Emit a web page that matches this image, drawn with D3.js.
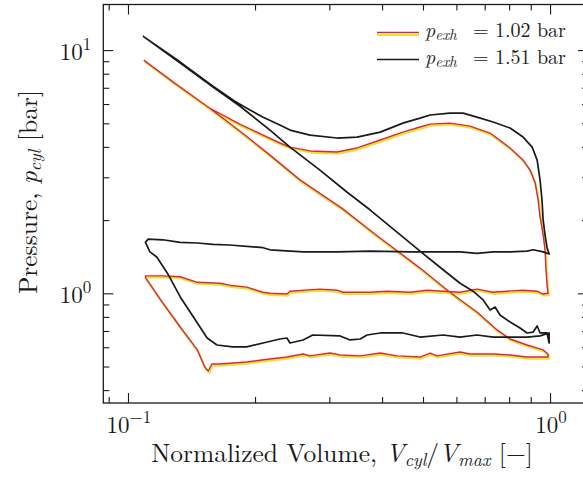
<!DOCTYPE html>
<html>
<head>
<meta charset="utf-8">
<script src="https://cdn.jsdelivr.net/npm/d3@7"></script>
</head>
<body style="margin:0;background:#ffffff">
<svg id="chart" width="583" height="480" style="display:block"></svg>
<script>
// p-V loop, exhaust pressure 1.02 bar (expansion, blow-down, exhaust, intake, compression)
const volumeLow = [
  0.109, 0.129, 0.156, 0.184, 0.209, 0.229, 0.242, 0.270, 0.313, 0.349, 0.396, 0.448, 0.492, 0.520,
  0.579, 0.646, 0.721, 0.804, 0.863, 0.897, 0.922, 0.937, 0.947, 0.963, 0.973, 0.978, 0.984, 0.989,
  0.963, 0.932, 0.863, 0.791, 0.733, 0.671, 0.612, 0.558, 0.511, 0.466, 0.411, 0.375, 0.323, 0.313,
  0.285, 0.242, 0.238, 0.217, 0.209, 0.191, 0.174, 0.165, 0.146, 0.133, 0.121, 0.110,
  0.110, 0.121, 0.133, 0.146, 0.152, 0.155, 0.158, 0.165, 0.191, 0.217, 0.238, 0.260, 0.270, 0.301,
  0.318, 0.355, 0.396, 0.434, 0.492, 0.520, 0.540, 0.612, 0.646, 0.733, 0.804, 0.882, 0.947, 0.989,
  0.989, 0.963, 0.882, 0.804, 0.749, 0.671, 0.579, 0.492, 0.385, 0.321, 0.256, 0.217, 0.184, 0.156,
  0.129, 0.109
];
const pressureLow = [
  9.10, 7.32, 5.78, 4.96, 4.47, 4.15, 3.99, 3.85, 3.81, 3.96, 4.27, 4.60, 4.83, 4.96,
  5.01, 4.87, 4.56, 3.96, 3.53, 3.21, 2.84, 2.42, 2.06, 1.74, 1.51, 1.25, 1.08, 1.00,
  0.993, 1.02, 1.03, 1.02, 1.01, 1.04, 1.01, 1.02, 1.03, 1.01, 1.02, 1.01, 1.01, 1.03,
  1.04, 1.02, 0.993, 1.00, 1.01, 1.06, 1.08, 1.10, 1.11, 1.17, 1.18, 1.18,
  1.16, 0.912, 0.727, 0.585, 0.498, 0.479, 0.512, 0.512, 0.522, 0.537, 0.547, 0.563, 0.553, 0.568,
  0.558, 0.553, 0.568, 0.553, 0.547, 0.568, 0.553, 0.574, 0.563, 0.563, 0.558, 0.547, 0.547, 0.547,
  0.563, 0.585, 0.613, 0.649, 0.707, 0.838, 1.01, 1.27, 1.75, 2.24, 2.92, 3.70, 4.65, 5.78,
  7.32, 9.10
];

// p-V loop, exhaust pressure 1.51 bar
const volumeHigh = [
  0.1085, 0.133, 0.159, 0.179, 0.1945, 0.209, 0.229, 0.242, 0.270, 0.313, 0.349, 0.396, 0.448, 0.492,
  0.520, 0.579, 0.622, 0.671, 0.733, 0.804, 0.863, 0.907, 0.932, 0.947, 0.957, 0.963, 0.973, 0.984, 0.995,
  0.963, 0.912, 0.882, 0.804, 0.733, 0.671, 0.612, 0.558, 0.466, 0.375, 0.313, 0.260, 0.217, 0.209,
  0.174, 0.159, 0.146, 0.133, 0.121, 0.1115, 0.110,
  0.1127, 0.117, 0.124, 0.133, 0.146, 0.154, 0.1625, 0.177, 0.191, 0.209, 0.229, 0.238, 0.242, 0.260,
  0.274, 0.318, 0.336, 0.355, 0.3685, 0.396, 0.448, 0.492, 0.558, 0.612, 0.671, 0.733, 0.804, 0.882,
  0.947, 0.995, 0.995,
  0.984, 0.947, 0.932, 0.912, 0.882, 0.849, 0.804, 0.761, 0.741, 0.721, 0.694, 0.657, 0.612, 0.558,
  0.492, 0.375, 0.330, 0.285, 0.242, 0.217, 0.184, 0.159, 0.133, 0.1085
];
const pressureHigh = [
  11.42, 8.93, 7.11, 6.17, 5.67, 5.30, 4.92, 4.69, 4.47, 4.35, 4.39, 4.60, 5.01, 5.25,
  5.41, 5.51, 5.51, 5.30, 5.06, 4.78, 4.39, 3.99, 3.53, 2.92, 2.42, 2.00, 1.74, 1.54, 1.45,
  1.48, 1.51, 1.49, 1.48, 1.48, 1.46, 1.48, 1.48, 1.48, 1.49, 1.48, 1.48, 1.51, 1.54,
  1.58, 1.59, 1.61, 1.62, 1.66, 1.67, 1.62,
  1.48, 1.41, 1.21, 0.966, 0.755, 0.655, 0.613, 0.602, 0.602, 0.625, 0.649, 0.655, 0.625, 0.643,
  0.674, 0.668, 0.643, 0.649, 0.674, 0.687, 0.687, 0.661, 0.674, 0.661, 0.674, 0.661, 0.661, 0.661,
  0.668, 0.687, 0.625,
  0.687, 0.687, 0.734, 0.693, 0.687, 0.720, 0.762, 0.814, 0.878, 0.854, 0.939, 1.02, 1.10, 1.25,
  1.49, 2.20, 2.61, 3.21, 3.99, 4.69, 5.89, 7.05, 8.84, 11.42
];

const legendValues = ["1.02", "1.51"];

const xLimits = [0.0874, 1.23];
const yLimits = [0.354, 15.4];
const xMajorTicks = [0.1, 1];
const xMinorTicks = [0.09, 0.2, 0.3, 0.4, 0.5, 0.6, 0.7, 0.8, 0.9];
const yMajorTicks = [1, 10];
const yMinorTicks = [0.4, 0.5, 0.6, 0.7, 0.8, 0.9, 2, 3, 4, 5, 6, 7, 8, 9];

const FONT = '"Latin Modern Roman", "Liberation Serif", "DejaVu Serif"';
const INK = "#1a1a1a";

const box = { left: 103.3, right: 588, top: 4.5, bottom: 403 };
const svg = d3.select("#chart");

const x = d3.scaleLog().domain(xLimits).range([box.left, box.right]);
const y = d3.scaleLog().domain(yLimits).range([box.bottom, box.top]);

function label(parent) {
  return parent.append("text").attr("font-family", FONT).attr("fill", INK);
}

svg.append("defs").append("clipPath").attr("id", "plot-clip")
  .append("rect")
  .attr("x", box.left).attr("y", box.top)
  .attr("width", box.right - box.left).attr("height", box.bottom - box.top);

// tick marks on all four sides, pointing inwards
function tickLayer(axisFn, scale, values, size, transform) {
  const g = svg.append("g").attr("transform", transform)
    .call(axisFn(scale).tickValues(values).tickSize(size).tickFormat(""));
  g.select(".domain").remove();
  g.selectAll(".tick line").attr("stroke", INK).attr("stroke-width", 1.1);
}
const majorLen = 10, minorLen = 6;
tickLayer(d3.axisBottom, x, xMajorTicks, -majorLen, `translate(0,${box.bottom})`);
tickLayer(d3.axisBottom, x, xMinorTicks, -minorLen, `translate(0,${box.bottom})`);
tickLayer(d3.axisTop, x, xMajorTicks, -majorLen, `translate(0,${box.top})`);
tickLayer(d3.axisTop, x, xMinorTicks, -minorLen, `translate(0,${box.top})`);
tickLayer(d3.axisLeft, y, yMajorTicks, -majorLen, `translate(${box.left},0)`);
tickLayer(d3.axisLeft, y, yMinorTicks, -minorLen, `translate(${box.left},0)`);
tickLayer(d3.axisRight, y, yMajorTicks, -majorLen, `translate(${box.right},0)`);
tickLayer(d3.axisRight, y, yMinorTicks, -minorLen, `translate(${box.right},0)`);

// frame
svg.append("rect")
  .attr("x", box.left).attr("y", box.top)
  .attr("width", box.right - box.left).attr("height", box.bottom - box.top)
  .attr("fill", "none").attr("stroke", INK).attr("stroke-width", 1.3);

// power-of-ten tick labels
function powerLabel(sel, v) {
  const e = Math.round(Math.log10(v));
  sel.append("tspan").text("10");
  sel.append("tspan").attr("dy", -10).attr("font-size", 17).text(e < 0 ? "\u2212" + (-e) : String(e));
}
xMajorTicks.forEach(v => {
  label(svg).attr("x", x(v) + 1).attr("y", 433)
    .attr("text-anchor", "middle").attr("font-size", 23)
    .call(powerLabel, v);
});
yMajorTicks.forEach(v => {
  label(svg).attr("x", box.left - 12).attr("y", y(v) + 10)
    .attr("text-anchor", "end").attr("font-size", 23)
    .call(powerLabel, v);
});

// axis titles
const xTitle = label(svg).attr("x", 342).attr("y", 462)
  .attr("text-anchor", "middle").attr("font-size", 25.5);
xTitle.append("tspan").text("Normalized Volume, ");
xTitle.append("tspan").attr("font-style", "italic").text("V");
xTitle.append("tspan").attr("font-style", "italic").attr("font-size", 18).attr("dy", 4).text("cyl");
xTitle.append("tspan").attr("dy", -4).text("/");
xTitle.append("tspan").attr("font-style", "italic").text("V");
xTitle.append("tspan").attr("font-style", "italic").attr("font-size", 18).attr("dy", 4).text("max");
xTitle.append("tspan").attr("dy", -4).text(" [\u2212]");

const yTitle = label(svg)
  .attr("transform", "translate(37,192) rotate(-90)")
  .attr("text-anchor", "middle").attr("font-size", 25.5);
yTitle.append("tspan").text("Pressure, ");
yTitle.append("tspan").attr("font-style", "italic").text("p");
yTitle.append("tspan").attr("font-style", "italic").attr("font-size", 18).attr("dy", 4).text("cyl");
yTitle.append("tspan").attr("dy", -4).text(" [bar]");

// curves
const line = d3.line().x(d => x(d[0])).y(d => y(d[1]));
const lowPts = volumeLow.map((v, i) => [v, pressureLow[i]]);
const highPts = volumeHigh.map((v, i) => [v, pressureHigh[i]]);
const plot = svg.append("g").attr("clip-path", "url(#plot-clip)");

const yellow = "#f4e21c", red = "#cf2660", black = INK;
plot.append("path").datum(lowPts).attr("d", line)
  .attr("fill", "none").attr("stroke", yellow).attr("stroke-width", 2.2)
  .attr("stroke-linejoin", "round").attr("transform", "translate(0.8,1.6)");
plot.append("path").datum(lowPts).attr("d", line)
  .attr("fill", "none").attr("stroke", red).attr("stroke-width", 1.4)
  .attr("stroke-linejoin", "round");
plot.append("path").datum(highPts).attr("d", line)
  .attr("fill", "none").attr("stroke", black).attr("stroke-width", 1.7)
  .attr("stroke-linejoin", "round");

// legend
const legend = svg.append("g");
const legendRows = [
  { value: legendValues[0], colors: [yellow, red], y: 32.5 },
  { value: legendValues[1], colors: [black], y: 59.5 }
];
legendRows.forEach(row => {
  if (row.colors.length === 2) {
    legend.append("line").attr("x1", 377).attr("x2", 419).attr("y1", row.y + 2.5).attr("y2", row.y + 2.5)
      .attr("stroke", row.colors[0]).attr("stroke-width", 2.2);
    legend.append("line").attr("x1", 377).attr("x2", 419).attr("y1", row.y).attr("y2", row.y)
      .attr("stroke", row.colors[1]).attr("stroke-width", 1.4);
  } else {
    legend.append("line").attr("x1", 377).attr("x2", 419).attr("y1", row.y).attr("y2", row.y)
      .attr("stroke", row.colors[0]).attr("stroke-width", 1.7);
  }
  const base = row.y + 4.5;
  const t = label(legend).attr("y", base).attr("font-size", 20);
  t.append("tspan").attr("x", 425).attr("font-style", "italic").text("p");
  t.append("tspan").attr("font-style", "italic").attr("font-size", 15).attr("dy", 3).text("exh");
  t.append("tspan").attr("x", 473).attr("y", base).text("=");
  t.append("tspan").attr("x", 495).text(row.value);
  t.append("tspan").attr("x", 537).text("bar");
});
</script>
</body>
</html>
